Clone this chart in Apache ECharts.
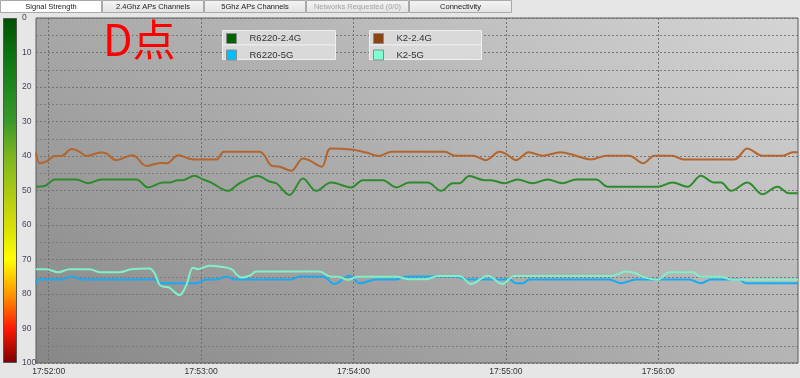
<!DOCTYPE html>
<html><head><meta charset="utf-8">
<script src="https://cdn.jsdelivr.net/npm/echarts@6/dist/echarts.min.js"></script>
<style>html,body{margin:0;padding:0;background:#e6e6e6;overflow:hidden}#c{width:800px;height:378px}</style>
</head><body><div id="c"></div>
<script>
// ---------- data ----------
const tabLabels = ['Signal Strength', '2.4Ghz APs Channels', '5Ghz APs Channels', 'Networks Requested (0/0)', 'Connectivity'];
const seriesNames = ['R6220-2.4G', 'R6220-5G', 'K2-2.4G', 'K2-5G'];
const titleText = 'D点';
// seconds relative to 17:52:00
const timeTicks = [0, 60, 120, 180, 240];
const timeTickLabels = ['17:52:00', '17:53:00', '17:54:00', '17:55:00', '17:56:00'];
const timeMin = -5, timeMax = 295;
const yMin = 0, yMax = 100, yStep = 10;

const r6220_24 = [[-5,48.9],[-1.6,48.7],[2.4,46.8],[10.9,46.8],[15.5,47.9],[20.7,46.8],[34.5,46.8],[39.1,49.1],[45,47.7],[47.6,47.7],[50.9,47.0],[52.8,47.0],[57.4,45.7],[60.7,46.8],[64,47.7],[70.5,50.1],[75.1,47.9],[82.3,45.8],[86.9,47.4],[89.6,47.9],[94.8,51.3],[100.1,46.5],[105.3,50.1],[111.2,47.7],[119.1,49.1],[123.7,47.0],[131.5,47.0],[136.8,49.1],[142,47.7],[149.2,47.7],[154.5,50.1],[159.1,47.9],[161.7,47.9],[165.6,45.8],[171.5,47.0],[174.2,47.0],[179.4,47.9],[184.6,46.8],[190.5,47.9],[196.4,46.8],[202.3,47.9],[207.6,46.8],[215.5,46.8],[220.1,48.9],[239.7,48.9],[245.6,47.7],[251.5,48.9],[256.8,45.7],[262,47.7],[264.7,47.7],[268.6,50.1],[275.1,47.7],[281,51.1],[286.9,48.9],[291.5,50.8],[295,50.8]];

const r6220_5 = [[-5,76.9],[-4.2,75.8],[5,75.8],[8.9,74.9],[13.5,75.8],[41.7,75.8],[44.3,76.9],[58.1,76.9],[62,75.8],[66,75.8],[69.9,74.9],[73.2,75.8],[95.5,75.8],[98.8,74.9],[107.9,74.9],[112.5,77.1],[118.4,74.7],[122.4,76.9],[128.9,75.8],[136.8,75.8],[140.7,74.9],[160.4,74.9],[164.3,75.8],[181.4,75.8],[184,76.9],[186.6,76.9],[189.3,75.8],[220.7,75.8],[225.3,76.9],[231.2,75.8],[252.2,75.8],[256.8,76.9],[260.7,75.8],[271.9,75.8],[274.5,76.9],[295,76.9]];

const k2_24 = [[-5,39.0],[-3.5,42.1],[-1,41.6],[2.5,40],[5,40],[9,38],[11.5,38.5],[15,40],[20.5,39],[23,39.4],[26.5,41.2],[33,39.8],[38.5,42.9],[44,42.0],[46.5,42.1],[51,39.8],[57,41],[66,41],[69,38.8],[83,38.8],[88,42.9],[91,43.1],[95.5,44.3],[100,40.7],[102.5,41.2],[107.5,43.1],[111,37.8],[119,38.1],[125,39.0],[130,40],[135,38.8],[156,38.8],[160,39.9],[167,39.9],[172,41.2],[177.5,38.8],[180,39.4],[184,41.2],[189,38.9],[194.5,39.9],[201.5,38.9],[207.5,39.9],[213.5,41],[219.5,39.9],[228.5,39.9],[234,42.1],[238.5,39.9],[245.5,39.9],[250,41],[270,41],[275,37.8],[281,39.9],[289,39.9],[293,38.9],[295,38.9]];

const k2_5 = [[-5,72.8],[-0.9,72.8],[3.7,73.7],[8.3,72.8],[16.1,72.8],[20.1,73.7],[27.9,73.7],[32.5,72.8],[39.7,72.6],[41.7,74.0],[43.7,77.4],[45.6,77.9],[47.6,78.2],[51.5,80.3],[54.2,77.4],[56.8,72.4],[58.7,72.8],[63.3,71.8],[67.9,72.1],[71.9,72.8],[75.8,75.2],[79.1,74.7],[81.7,73.5],[106.6,73.5],[111.2,75.0],[113.8,75.0],[117.8,75.9],[121.7,75.0],[136.8,75.0],[142,75.7],[148.6,75.7],[153.2,74.8],[161.7,74.8],[166.3,77.1],[172.8,74.7],[178.7,77.1],[183.3,74.8],[221.4,74.8],[227.3,73.5],[231.2,74.0],[233.8,75.0],[239.7,75.9],[244.3,73.7],[253.5,73.7],[256.8,75.0],[264.7,75.0],[269.2,75.9],[295,75.9]];

// ---------- styles ----------
const lineColors = ['#2c8c2c', '#1aa9f2', '#b4652d', '#80f0c8'];
const swatchColors = ['#006400', '#00bfff', '#8b4513', '#7fffd4'];
const seriesData = [r6220_24, r6220_5, k2_24, k2_5];

const chart = echarts.init(document.getElementById('c'), null, {renderer: 'canvas'});

// tabs
const tabEdges = [[0, 102], [102, 204], [204, 306], [306, 409], [409, 512]];
const tabGraphics = [];
tabLabels.forEach((t, i) => {
  const [a, b] = tabEdges[i];
  tabGraphics.push({
    type: 'rect', shape: {x: a + 0.5, y: 0.5, width: b - a - 1, height: 12},
    style: {fill: i === 0 ? '#ffffff' : {type: 'linear', x: 0, y: 0, x2: 0, y2: 1, colorStops: [{offset: 0, color: '#f5f5f5'}, {offset: 1, color: '#e2e2e2'}]},
            stroke: '#a9a9a9', lineWidth: 1}, z: 1
  });
  tabGraphics.push({
    type: 'text', x: (a + b) / 2, y: 6.5,
    style: {text: t, fill: i === 3 ? '#a3a3a3' : '#222', font: '7.5px "Liberation Sans", Arial, sans-serif', align: 'center', verticalAlign: 'middle'}, z: 2
  });
});

const legendBoxes = [];
[[222, 113], [369, 112]].forEach(([x, w]) => {
  legendBoxes.push({type: 'rect', shape: {x: x + 0.5, y: 30.5, width: w, height: 14.5}, style: {fill: '#d9d9d9', stroke: '#efefef', lineWidth: 1}, z: 10});
  legendBoxes.push({type: 'rect', shape: {x: x + 0.5, y: 45, width: w, height: 14.5}, style: {fill: '#d9d9d9', stroke: '#efefef', lineWidth: 1}, z: 10});
});

const option = {
  backgroundColor: '#e6e6e6',
  animation: false,
  grid: {
    left: 36, right: 2, top: 18, bottom: 15, show: true,
    backgroundColor: {type: 'linear', x: 0, y: 1, x2: 0.493, y2: -0.71, colorStops: [{offset: 0, color: '#878787'}, {offset: 1, color: '#d5d5d5'}]},
    borderColor: '#5c5c5c', borderWidth: 1
  },
  xAxis: {
    type: 'value', min: timeMin, max: timeMax,
    axisLine: {show: false},
    axisTick: {show: false, customValues: timeTicks},
    axisLabel: {customValues: timeTicks, margin: 4, fontSize: 8.5, color: '#333', fontFamily: 'Liberation Sans, Arial, sans-serif',
      formatter: v => { const i = timeTicks.indexOf(v); return i >= 0 ? timeTickLabels[i] : ''; }},
    splitLine: {show: true, lineStyle: {color: '#707070', type: [2, 2], width: 1}}
  },
  yAxis: {
    type: 'value', inverse: true, min: yMin, max: yMax, interval: yStep,
    axisLine: {show: false}, axisTick: {show: false},
    axisLabel: {margin: 14, align: 'left', fontSize: 8.5, color: '#48465a', fontFamily: 'Liberation Sans, Arial, sans-serif'},
    splitLine: {show: true, lineStyle: {color: '#747474', type: [2, 2], width: 1}},
    minorTick: {show: false, splitNumber: 2},
    minorSplitLine: {show: true, lineStyle: {color: '#7c7c7c', type: [2, 2], width: 1}}
  },
  legend: [
    {left: 226, top: 33, orient: 'vertical', padding: 0, itemWidth: 10, itemHeight: 10, itemGap: 5.5, icon: 'rect', selectedMode: false, z: 20,
     textStyle: {fontSize: 9.5, color: '#333', fontFamily: 'Liberation Sans, Arial, sans-serif', padding: [0, 0, 0, 8]},
     data: [0, 1].map(i => ({name: seriesNames[i], itemStyle: {color: swatchColors[i], borderColor: '#8a8a8a', borderWidth: 1}}))},
    {left: 373, top: 33, orient: 'vertical', padding: 0, itemWidth: 10, itemHeight: 10, itemGap: 5.5, icon: 'rect', selectedMode: false, z: 20,
     textStyle: {fontSize: 9.5, color: '#333', fontFamily: 'Liberation Sans, Arial, sans-serif', padding: [0, 0, 0, 8]},
     data: [2, 3].map(i => ({name: seriesNames[i], itemStyle: {color: swatchColors[i], borderColor: '#8a8a8a', borderWidth: 1}}))}
  ],
  graphic: [
    ...tabGraphics,
    // colour scale bar
    {type: 'rect', shape: {x: 3.5, y: 18.5, width: 13, height: 344},
     style: {fill: {type: 'linear', x: 0, y: 0, x2: 0, y2: 1, colorStops: [
       {offset: 0, color: '#005200'}, {offset: 0.1, color: '#0c7210'}, {offset: 0.2, color: '#1f871f'},
       {offset: 0.3, color: '#3a992a'}, {offset: 0.4, color: '#7cb61e'}, {offset: 0.5, color: '#a9c914'},
       {offset: 0.6, color: '#d6de08'}, {offset: 0.7, color: '#ffff00'}, {offset: 0.8, color: '#ff9800'},
       {offset: 0.9, color: '#ff1800'}, {offset: 1, color: '#7a0000'}]},
       stroke: '#555', lineWidth: 1}, z: 1},
    ...legendBoxes,
    {type: 'text', x: 103, y: 40, z: 20,
     style: {text: titleText, fill: '#ff0000', font: '43px "Noto Sans CJK SC", sans-serif', align: 'left', verticalAlign: 'middle'}}
  ],
  series: seriesNames.map((n, i) => ({
    name: n, type: 'line', data: seriesData[i], showSymbol: false, smooth: 0.35,
    itemStyle: {color: swatchColors[i]},
    lineStyle: {color: lineColors[i], width: 2},
    z: 3 + i
  }))
};
chart.setOption(option);
</script>
</body></html>
